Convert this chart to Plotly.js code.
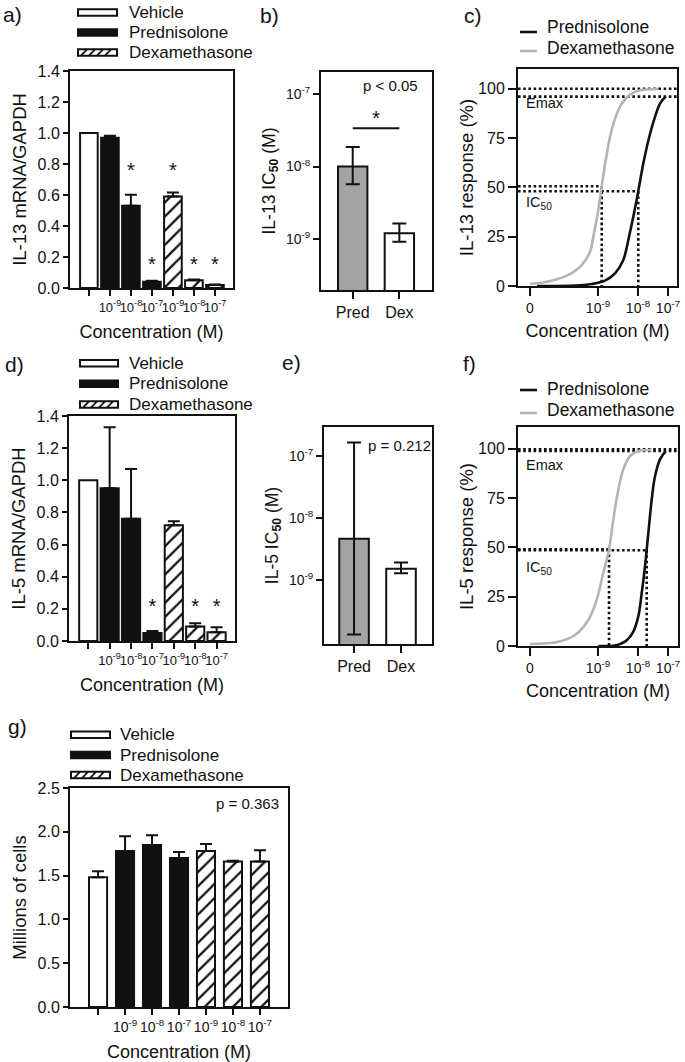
<!DOCTYPE html>
<html><head><meta charset="utf-8">
<script src="https://cdn.plot.ly/plotly-3.0.1.min.js"></script>
<style>html,body{margin:0;padding:0;background:#fff}#chart{width:685px;height:1062px}</style>
</head><body><div id="chart"></div>
<script>
// ---------------- data ----------------
const concTickLabels = ['', '10<sup>-9</sup>', '10<sup>-8</sup>', '10<sup>-7</sup>', '10<sup>-9</sup>', '10<sup>-8</sup>', '10<sup>-7</sup>'];
const concTickPos = [0, 1, 2, 3, 4, 5, 6];
const vehicleIdx = [0];
const predIdx = [1, 2, 3];
const dexIdx = [4, 5, 6];

// a) IL-13 mRNA/GAPDH
const il13Vehicle = [1.00];
const il13VehicleErr = [0.0];
const il13Pred = [0.97, 0.53, 0.04];
const il13PredErr = [0.013, 0.072, 0.006];
const il13Dex = [0.59, 0.05, 0.02];
const il13DexErr = [0.026, 0.005, 0.003];
const il13StarIdx = [2, 3, 4, 5, 6];
const il13StarLevel = [0.75, 0.145, 0.75, 0.145, 0.145];

// d) IL-5 mRNA/GAPDH
const il5Vehicle = [1.00];
const il5VehicleErr = [0.0];
const il5Pred = [0.95, 0.76, 0.05];
const il5PredErr = [0.38, 0.31, 0.012];
const il5Dex = [0.72, 0.09, 0.055];
const il5DexErr = [0.025, 0.02, 0.03];
const il5StarIdx = [3, 5, 6];
const il5StarLevel = [0.205, 0.205, 0.205];

// b) IL-13 IC50, e) IL-5 IC50
const drugLabels = ['Pred', 'Dex'];
const drugPos = [0, 1];
const il13Ic50 = [1.0e-8, 1.19e-9];
const il13Ic50Upper = [1.86e-8, 1.62e-9];
const il13Ic50Lower = [5.7e-9, 9.1e-10];
const il13SigLevel = 3.4e-8;
const il13SigStar = 4.4e-8;
const il5Ic50 = [4.6e-9, 1.52e-9];
const il5Ic50Upper = [1.63e-7, 1.9e-9];
const il5Ic50Lower = [1.33e-10, 1.28e-9];
const logTickVals = [1e-9, 1e-8, 1e-7];
const logTickText = ['10<sup>-9</sup>', '10<sup>-8</sup>', '10<sup>-7</sup>'];

// c), f) response curves (x in concentration-axis units)
const respTickPos = [0, 68, 108, 138];
const respTickText = ['0', '10<sup>-9</sup>', '10<sup>-8</sup>', '10<sup>-7</sup>'];
const respTickVals = [0, 25, 50, 75, 100];
const il13PredCurveX = [7, 45, 61.7, 75, 85, 93.3, 99, 103.3, 108.3, 113.3, 119, 125, 130, 135.7];
const il13PredCurveY = [0, 0.2, 1.0, 2.7, 6.4, 13.2, 25, 35.1, 48.1, 62.1, 75, 85.7, 92.4, 96.1];
const il13DexCurveX = [0, 21.7, 38.3, 51.7, 60, 63.3, 67.7, 71.7, 75.7, 80, 85, 91.7, 100, 110, 125, 128.3];
const il13DexCurveY = [1.0, 2.7, 5.6, 10.6, 17.4, 25, 36.8, 50.6, 63.7, 75.5, 84.8, 92.4, 97, 99.2, 99.8, 100];
const il13EmaxLevels = [100, 96];
const il13Ic50CurveX = [108.3, 71.7];   // Pred, Dex
const il13Ic50CurveY = [48, 50.6];
const il5PredCurveX = [68.3, 85, 95, 103.3, 108.3, 111.7, 115, 116.7, 119, 121.7, 125, 130, 135.7];
const il5PredCurveY = [0, 0.3, 2.2, 7.3, 15, 26.8, 40.3, 48.8, 60.7, 74.2, 86, 94.6, 98.8];
const il5DexCurveX = [0, 28.3, 45, 58.3, 66.7, 73.3, 79, 83.3, 87.7, 93.3, 100, 108.3, 121.7];
const il5DexCurveY = [1, 2.2, 5.6, 13.2, 23.4, 37, 48.8, 64, 77.6, 89.5, 96.3, 98.8, 99.3];
const il5EmaxLevels = [99.7, 98.8];
const il5Ic50CurveX = [116.7, 79];
const il5Ic50CurveY = [48.5, 49];

// g) cell counts
const cellVehicle = [1.48];
const cellVehicleErr = [0.07];
const cellPred = [1.78, 1.85, 1.70];
const cellPredErr = [0.17, 0.11, 0.07];
const cellDex = [1.78, 1.66, 1.66];
const cellDexErr = [0.08, 0.01, 0.13];

// ---------------- drawing ----------------
const W = 685, H = 1062, INK = '#111111', GREY = '#b4b4b4', BARGREY = '#a3a3a3';
const FONT = 'Liberation Sans, Arial, Helvetica, sans-serif';
const fx = x => x / W, fy = y => 1 - y / H;
const zeros = n => new Array(n).fill(0);

const traces = [];
const shapes = [];
const annotations = [];

function errY(arr, show) {
  return {type: 'data', symmetric: false, array: arr, arrayminus: zeros(arr.length),
          color: INK, thickness: 2, width: 6, visible: show};
}
function barPanel(xa, ya, veh, vehErr, pred, predErr, dex, dexErr, bw, vehErrShow) {
  traces.push({type: 'bar', xaxis: xa, yaxis: ya, x: vehicleIdx, y: veh, width: bw,
    marker: {color: 'white', line: {color: INK, width: 2}}, error_y: errY(vehErr, vehErrShow)});
  traces.push({type: 'bar', xaxis: xa, yaxis: ya, x: predIdx, y: pred, width: bw,
    marker: {color: INK, line: {color: INK, width: 2}}, error_y: errY(predErr, true)});
  traces.push({type: 'bar', xaxis: xa, yaxis: ya, x: dexIdx, y: dex, width: bw,
    marker: {color: 'white', line: {color: INK, width: 2},
      pattern: {shape: '/', fgcolor: INK, bgcolor: 'white', size: 10, solidity: 0.22}},
    error_y: errY(dexErr, true)});
}
function stars(xa, ya, xs, ys) {
  traces.push({type: 'scatter', mode: 'text', xaxis: xa, yaxis: ya, x: xs, y: ys,
    text: xs.map(() => '*'), textfont: {size: 20, color: INK, family: FONT}, textposition: 'middle center'});
}
function ic50Panel(xa, ya, vals, up, lo) {
  traces.push({type: 'bar', xaxis: xa, yaxis: ya, x: drugPos, y: vals, width: 0.63,
    marker: {color: [BARGREY, 'white'], line: {color: INK, width: 2}},
    error_y: {type: 'data', symmetric: false,
      array: vals.map((v, i) => up[i] - v), arrayminus: vals.map((v, i) => v - lo[i]),
      color: INK, thickness: 2, width: 7}});
}
function respPanel(xa, ya, px, py, dxs, dys, emax, icx, icy, xmin, xmax) {
  const dot = {color: INK, width: 2.6, dash: '2.6px,2.6px'};
  emax.forEach(l => traces.push({type: 'scatter', mode: 'lines', xaxis: xa, yaxis: ya,
    x: [xmin, xmax], y: [l, l], line: dot}));
  icx.forEach((cx, i) => {
    traces.push({type: 'scatter', mode: 'lines', xaxis: xa, yaxis: ya, x: [xmin, cx], y: [icy[i], icy[i]], line: dot});
    traces.push({type: 'scatter', mode: 'lines', xaxis: xa, yaxis: ya, x: [cx, cx], y: [icy[i], 0], line: dot});
  });
  traces.push({type: 'scatter', mode: 'lines', xaxis: xa, yaxis: ya, x: dxs, y: dys,
    line: {color: GREY, width: 2.6, shape: 'spline', smoothing: 1}});
  traces.push({type: 'scatter', mode: 'lines', xaxis: xa, yaxis: ya, x: px, y: py,
    line: {color: INK, width: 2.6, shape: 'spline', smoothing: 1}});
}

// a
barPanel('x', 'y', il13Vehicle, il13VehicleErr, il13Pred, il13PredErr, il13Dex, il13DexErr, 0.84, false);
stars('x', 'y', il13StarIdx, il13StarLevel);
// b
ic50Panel('x2', 'y2', il13Ic50, il13Ic50Upper, il13Ic50Lower);
traces.push({type: 'scatter', mode: 'lines', xaxis: 'x2', yaxis: 'y2', x: drugPos,
  y: [il13SigLevel, il13SigLevel], line: {color: INK, width: 2}});
stars('x2', 'y2', [0.5], [il13SigStar]);
// c
const RX = [-12, 147];
respPanel('x3', 'y3', il13PredCurveX, il13PredCurveY, il13DexCurveX, il13DexCurveY,
  il13EmaxLevels, il13Ic50CurveX, il13Ic50CurveY, RX[0], RX[1]);
// d
barPanel('x4', 'y4', il5Vehicle, il5VehicleErr, il5Pred, il5PredErr, il5Dex, il5DexErr, 0.85, false);
stars('x4', 'y4', il5StarIdx, il5StarLevel);
// e
ic50Panel('x5', 'y5', il5Ic50, il5Ic50Upper, il5Ic50Lower);
// f
respPanel('x6', 'y6', il5PredCurveX, il5PredCurveY, il5DexCurveX, il5DexCurveY,
  il5EmaxLevels, il5Ic50CurveX, il5Ic50CurveY, RX[0], RX[1] + 1);
// g
barPanel('x7', 'y7', cellVehicle, cellVehicleErr, cellPred, cellPredErr, cellDex, cellDexErr, 0.67, true);

// ---- axes ----
function ax(extra) {
  return Object.assign({showline: true, linecolor: INK, linewidth: 2, mirror: true,
    ticks: 'outside', ticklen: 6, tickwidth: 2, tickcolor: INK, showgrid: false, zeroline: false,
    tickfont: {size: 16, color: INK, family: FONT}, fixedrange: true, tickangle: 0}, extra);
}
const tTitle = (t, sz, so) => ({text: t, font: {size: sz, color: INK, family: FONT}, standoff: so});

const layout = {
  width: W, height: H, margin: {l: 0, r: 0, t: 0, b: 0}, paper_bgcolor: 'white', plot_bgcolor: 'white',
  showlegend: false, barmode: 'overlay', font: {family: FONT, color: INK, size: 16},
  // a
  xaxis: ax({domain: [fx(70), fx(233)], anchor: 'y', range: [-0.9, 6.86], tickmode: 'array',
    tickvals: concTickPos, ticktext: concTickLabels, tickfont: {size: 13, color: INK, family: FONT},
    title: tTitle('Concentration (M)', 18, 12)}),
  yaxis: ax({domain: [fy(288), fy(71)], anchor: 'x', range: [0, 1.4], dtick: 0.2, tickformat: '.1f', ticklen: 5,
    title: tTitle('IL-13 mRNA/GAPDH', 18.5, 6)}),
  // b
  xaxis2: ax({domain: [fx(321), fx(432)], anchor: 'y2', range: [-0.68, 1.70], tickmode: 'array',
    tickvals: drugPos, ticktext: drugLabels, ticklen: 7}),
  yaxis2: ax({domain: [fy(290), fy(72)], anchor: 'x2', type: 'log', range: [-9.71, -6.69], tickmode: 'array',
    tickvals: logTickVals, ticktext: logTickText, tickfont: {size: 14, color: INK, family: FONT},
    title: tTitle('IL-13 IC<sub><b>50</b></sub> (M)', 17.5, 6)}),
  // c
  xaxis3: ax({domain: [fx(518), fx(677)], anchor: 'y3', range: RX, tickmode: 'array',
    tickvals: respTickPos, ticktext: respTickText, ticklen: 8, tickfont: {size: 14, color: INK, family: FONT},
    title: tTitle('Concentration (M)', 18, 10)}),
  yaxis3: ax({domain: [fy(286), fy(69)], anchor: 'x3', range: [0, 110], tickmode: 'array', tickvals: respTickVals,
    ticklen: 8, title: tTitle('IL-13 response (%)', 18.5, 0)}),
  // d
  xaxis4: ax({domain: [fx(69), fx(235)], anchor: 'y4', range: [-0.9, 6.86], tickmode: 'array',
    tickvals: concTickPos, ticktext: concTickLabels, tickfont: {size: 13, color: INK, family: FONT},
    title: tTitle('Concentration (M)', 18, 12)}),
  yaxis4: ax({domain: [fy(641), fy(416)], anchor: 'x4', range: [0, 1.4], dtick: 0.2, tickformat: '.1f', ticklen: 5,
    title: tTitle('IL-5 mRNA/GAPDH', 18.5, 6)}),
  // e
  xaxis5: ax({domain: [fx(324), fx(432)], anchor: 'y5', range: [-0.64, 1.66], tickmode: 'array',
    tickvals: drugPos, ticktext: drugLabels, ticklen: 7}),
  yaxis5: ax({domain: [fy(644), fy(427)], anchor: 'x5', type: 'log', range: [-10.03, -6.54], tickmode: 'array',
    tickvals: logTickVals, ticktext: logTickText, tickfont: {size: 14, color: INK, family: FONT},
    title: tTitle('IL-5 IC<sub><b>50</b></sub> (M)', 17.5, 6)}),
  // f
  xaxis6: ax({domain: [fx(518), fx(678)], anchor: 'y6', range: [RX[0], RX[1] + 1], tickmode: 'array',
    tickvals: respTickPos, ticktext: respTickText, ticklen: 8, tickfont: {size: 14, color: INK, family: FONT},
    title: tTitle('Concentration (M)', 18, 10)}),
  yaxis6: ax({domain: [fy(646), fy(427)], anchor: 'x6', range: [0, 111], tickmode: 'array', tickvals: respTickVals,
    ticklen: 8, title: tTitle('IL-5 response (%)', 18.5, 0)}),
  // g
  xaxis7: ax({domain: [fx(70), fx(288)], anchor: 'y7', range: [-1.04, 7.04], tickmode: 'array',
    tickvals: concTickPos, ticktext: concTickLabels, tickfont: {size: 14, color: INK, family: FONT},
    title: tTitle('Concentration (M)', 18, 12)}),
  yaxis7: ax({domain: [fy(1007), fy(788)], anchor: 'x7', range: [0, 2.5], dtick: 0.5, tickformat: '.1f', ticklen: 5,
    title: tTitle('Millions of cells', 18.5, 6)}),
  shapes: shapes, annotations: annotations
};

// ---- custom legends ----
function txt(x, y, t, size, xanchor) {
  annotations.push({xref: 'paper', yref: 'paper', x: fx(x), y: fy(y), text: t, showarrow: false,
    xanchor: xanchor || 'left', yanchor: 'middle', font: {size: size, color: INK, family: FONT}});
}
function rectSw(x0, x1, yc, fill) {
  shapes.push({type: 'rect', xref: 'paper', yref: 'paper', x0: fx(x0), x1: fx(x1), y0: fy(yc + 3.2), y1: fy(yc - 3.2),
    fillcolor: fill, line: {color: INK, width: 2}});
}
function hatchSw(x0, x1, yc) {
  rectSw(x0, x1, yc, 'white');
  for (let x = x0 + 3; x + 6 <= x1; x += 8) {
    shapes.push({type: 'line', xref: 'paper', yref: 'paper', x0: fx(x), x1: fx(x + 6), y0: fy(yc + 3.2), y1: fy(yc - 3.2),
      line: {color: INK, width: 1.8}});
  }
}
function barLegend(x0, x1, tx, ys) {
  rectSw(x0, x1, ys[0], 'white'); txt(tx, ys[0], 'Vehicle', 17);
  rectSw(x0, x1, ys[1], INK); txt(tx, ys[1], 'Prednisolone', 17);
  hatchSw(x0, x1, ys[2]); txt(tx, ys[2], 'Dexamethasone', 17);
}
function lineLegend(x0, x1, tx, lineYs, textYs) {
  shapes.push({type: 'line', xref: 'paper', yref: 'paper', x0: fx(x0), x1: fx(x1), y0: fy(lineYs[0]), y1: fy(lineYs[0]), line: {color: INK, width: 2.6}});
  shapes.push({type: 'line', xref: 'paper', yref: 'paper', x0: fx(x0), x1: fx(x1), y0: fy(lineYs[1]), y1: fy(lineYs[1]), line: {color: GREY, width: 2.6}});
  txt(tx, textYs[0], 'Prednisolone', 17.5);
  txt(tx, textYs[1], 'Dexamethasone', 17.5);
}
barLegend(78, 117, 127, [12.5, 32.5, 52.5]);
barLegend(80, 118, 127, [363.3, 383.7, 404.5]);
barLegend(71, 110, 118, [734.7, 755, 775]);
lineLegend(520, 537, 545, [32, 51], [27, 48]);
lineLegend(520, 537, 545, [390, 413], [389, 410]);

// panel letters
[['a)', 1, 14], ['b)', 258, 15], ['c)', 462, 15], ['d)', 3, 364], ['e)', 280, 362], ['f)', 461, 363], ['g)', 6, 726]]
  .forEach(p => txt(p[1], p[2], p[0], 21));
// notes
txt(390, 86, 'p &lt; 0.05', 15, 'center');
txt(366, 446, 'p = 0.212', 15, 'left');
txt(281, 803, 'p = 0.363', 15, 'right');
txt(524, 103, 'Emax', 14.5, 'left');
txt(524, 203, 'IC<sub>50</sub>', 14.5, 'left');
txt(524, 465, 'Emax', 14.5, 'left');
txt(524, 568, 'IC<sub>50</sub>', 14.5, 'left');

Plotly.newPlot('chart', traces, layout, {displayModeBar: false, responsive: false});
</script></body></html>
